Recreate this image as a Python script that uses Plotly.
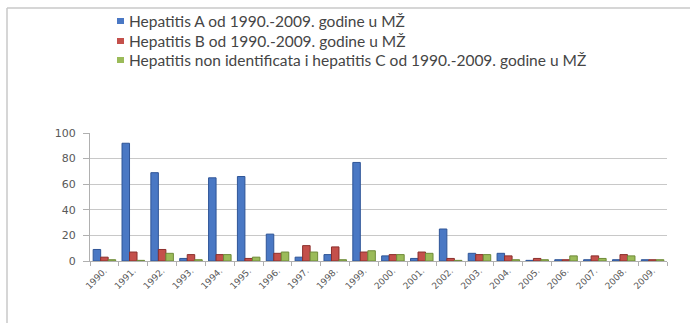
import plotly.graph_objects as go

years = ["1990.", "1991.", "1992.", "1993.", "1994.", "1995.", "1996.", "1997.", "1998.", "1999.",
         "2000.", "2001.", "2002.", "2003.", "2004.", "2005.", "2006.", "2007.", "2008.", "2009."]

hep_a = [9, 92, 69, 2, 65, 66, 21, 3, 5, 77, 4, 2, 25, 6, 6, 0.5, 1, 1, 1, 1]
hep_b = [3, 7, 9, 5, 5, 2, 6, 12, 11, 7, 5, 7, 2, 5, 4, 2, 1, 4, 5, 1]
hep_c = [1, 0.5, 6, 1, 5, 3, 7, 7, 1, 8, 5, 6, 0.5, 5, 1, 1, 4, 2, 4, 1]

names = [
    "Hepatitis A od 1990.-2009. godine u MŽ",
    "Hepatitis B od 1990.-2009. godine u MŽ",
    "Hepatitis non identificata i hepatitis C od 1990.-2009. godine u MŽ",
]
colors = ["#4a78c4", "#c4504b", "#9bbb59"]
edges = ["#2f5597", "#8c2f2c", "#6f8b38"]

fig = go.Figure()
for vals, name, col, edge in zip([hep_a, hep_b, hep_c], names, colors, edges):
    fig.add_trace(go.Bar(
        x=years, y=vals, name=name, showlegend=False,
        marker=dict(color=col, line=dict(color=edge, width=1)),
    ))

W, H = 694, 323
ml, mr, mt, mb = 90, 27, 133, 62
pw, ph = W - ml - mr, H - mt - mb


def px_x(p):
    return (p - ml) / pw


def px_y(p):
    return (H - mb - p) / ph


# outer frame (left and top edges)
frame = dict(type="line", xref="paper", yref="paper", line=dict(color="#c8c8c8", width=1.5))
fig.add_shape(**frame, x0=px_x(7), x1=px_x(690), y0=px_y(8), y1=px_y(8))
fig.add_shape(**frame, x0=px_x(7), x1=px_x(7), y0=px_y(8), y1=px_y(323))

# legend: small colour square followed by the series name
row_y = [21, 41, 60]
for name, col, ry in zip(names, colors, row_y):
    fig.add_shape(type="rect", xref="paper", yref="paper",
                  x0=px_x(117), x1=px_x(124), y0=px_y(ry + 3), y1=px_y(ry - 3),
                  fillcolor=col, line=dict(width=0))
    fig.add_annotation(xref="paper", yref="paper", x=px_x(127), y=px_y(ry),
                       xanchor="left", yanchor="middle", showarrow=False,
                       text=name, font=dict(family="Lato", size=15.5, color="#454545"))

fig.update_layout(
    width=W, height=H,
    margin=dict(l=ml, r=mr, t=mt, b=mb),
    paper_bgcolor="white", plot_bgcolor="white",
    barmode="group", bargap=0.22, bargroupgap=0.0,
    font=dict(family="DejaVu Sans", color="#555555"),
    showlegend=False,
)
fig.update_yaxes(
    range=[0, 100], dtick=20,
    showgrid=True, gridcolor="#c8c8c8", gridwidth=1,
    showline=True, linecolor="#b0b0b0",
    ticks="outside", ticklen=6, tickcolor="#b0b0b0", ticklabelstandoff=5,
    tickfont=dict(size=11, color="#595959"),
    zeroline=False,
)
fig.update_xaxes(
    type="category",
    showline=True, linecolor="#b0b0b0",
    ticks="outside", ticklen=4, tickcolor="#b0b0b0", tickson="boundaries",
    tickangle=-45, tickfont=dict(size=9, color="#595959"),
)

fig.write_html("out.html")
